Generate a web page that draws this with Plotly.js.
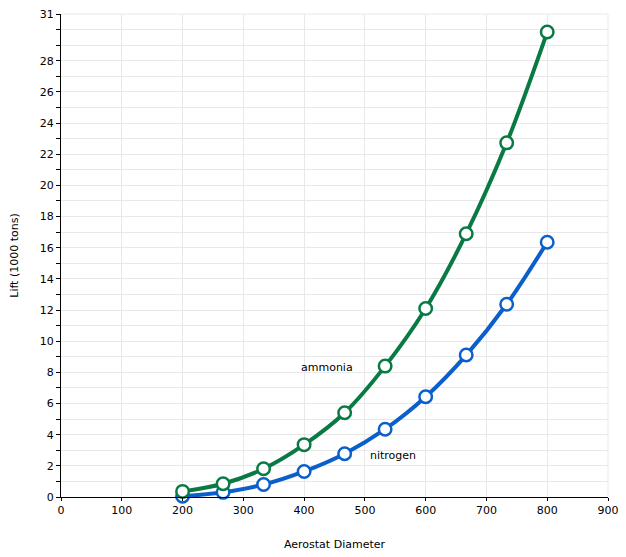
<!DOCTYPE html>
<html>
<head>
<meta charset="utf-8">
<script src="https://cdn.plot.ly/plotly-3.0.1.min.js"></script>
<style>html,body{margin:0;padding:0;background:#fff;}#chart{width:626px;height:557px;}</style>
</head>
<body>
<div id="chart"></div>
<script>
var diameters = [200, 266.7, 333.3, 400, 466.7, 533.3, 600, 666.7, 733.3, 800];
var ammonia = [0.36, 0.85, 1.81, 3.36, 5.41, 8.4, 12.1, 16.9, 22.73, 29.84];
var nitrogen = [0.05, 0.3, 0.8, 1.64, 2.78, 4.35, 6.43, 9.11, 12.37, 16.35];
var yTickVals = [];
var yTickText = [];
for (var v = 0; v <= 31; v++) {
  yTickVals.push(v);
  yTickText.push((v % 2 === 0 && v <= 28) || v === 31 ? String(v) : '');
}
var xTickVals = [0, 100, 200, 300, 400, 500, 600, 700, 800, 900];
var labels = [
  {text: 'ammonia', x: 437, y: 8.3},
  {text: 'nitrogen', x: 546, y: 2.64}
];

var font = {family: 'DejaVu Sans, sans-serif', size: 11, color: '#000'};
var traces = [
  {x: diameters, y: nitrogen, name: 'nitrogen', mode: 'lines+markers', cliponaxis: false,
   line: {color: '#0b5fcb', width: 4, shape: 'spline', smoothing: 1},
   marker: {size: 12.5, color: '#ffffff', line: {color: '#0b5fcb', width: 2.5}}},
  {x: diameters, y: ammonia, name: 'ammonia', mode: 'lines+markers', cliponaxis: false,
   line: {color: '#0a7a45', width: 4, shape: 'spline', smoothing: 1},
   marker: {size: 12.5, color: '#ffffff', line: {color: '#0a7a45', width: 2.5}}}
];
var layout = {
  width: 626, height: 557,
  margin: {l: 61, r: 18, t: 14.4, b: 60.3, pad: 0},
  paper_bgcolor: '#fff', plot_bgcolor: '#fff',
  showlegend: false,
  font: font,
  xaxis: {
    range: [0, 900], tickmode: 'array', tickvals: xTickVals,
    showgrid: true, gridcolor: '#e8e8e8', gridwidth: 1,
    showline: true, linecolor: '#000', linewidth: 1,
    ticks: 'outside', ticklen: 3, tickcolor: '#000',
    zeroline: false, tickfont: font,
    title: {text: 'Aerostat Diameter', font: font, standoff: 24}
  },
  yaxis: {
    range: [0, 31], tickmode: 'array', tickvals: yTickVals, ticktext: yTickText,
    showgrid: true, gridcolor: '#e8e8e8', gridwidth: 1,
    showline: true, linecolor: '#000', linewidth: 1,
    ticks: 'outside', ticklen: 4, tickcolor: '#000',
    zeroline: false, tickfont: font,
    title: {text: 'Lift (1000 tons)', font: font, standoff: 18}
  },
  shapes: [
    {type: 'line', xref: 'paper', yref: 'paper', x0: 0, x1: 1, y0: 1, y1: 1, line: {color: '#e8e8e8', width: 1}},
    {type: 'line', xref: 'paper', yref: 'paper', x0: 1, x1: 1, y0: 0, y1: 1, line: {color: '#e8e8e8', width: 1}}
  ],
  annotations: labels.map(function (a) {
    return {text: a.text, x: a.x, y: a.y, xref: 'x', yref: 'y', showarrow: false, font: font};
  })
};
Plotly.newPlot('chart', traces, layout, {displayModeBar: false, staticPlot: true});
</script>
</body>
</html>
